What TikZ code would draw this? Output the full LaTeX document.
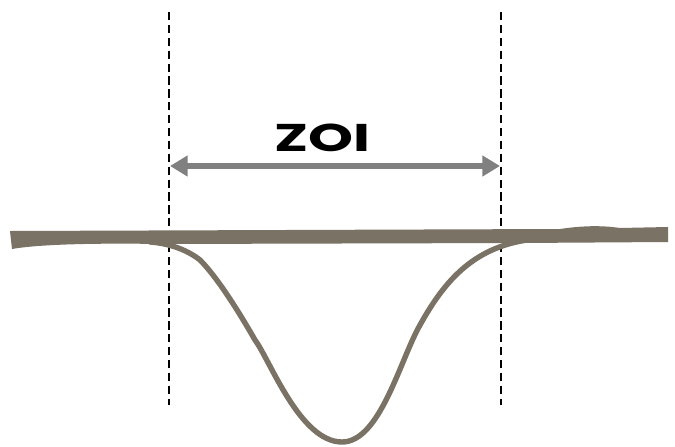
\documentclass[tikz,border=0pt]{standalone}
\usepackage{fontspec}
\setmainfont{Poppins}
\usetikzlibrary{arrows.meta}
\definecolor{ground}{RGB}{122,114,101}
\definecolor{arrowgray}{RGB}{128,128,128}
\begin{document}
\begin{tikzpicture}[x=0.03cm,y=-0.03cm, line join=round, line cap=round]
	\def\xl{169} \def\xr{501} % bords de la zone
	\def\ytop{12} \def\ybot{405}
	\useasboundingbox (0,0) rectangle (675,446);
	% limites verticales
	\coordinate (lt) at (\xl,\ytop); \coordinate (lb) at (\xl,\ybot);
	\coordinate (rt) at (\xr,\ytop); \coordinate (rb) at (\xr,\ybot);
	\draw[line width=1.4pt, line cap=butt, dash pattern=on 7pt off 4pt] (lt)--(lb);
	\draw[line width=1.4pt, line cap=butt, dash pattern=on 7pt off 4pt] (rt)--(rb);
	% surface
	\fill[ground] (10,231) -- (560,229) .. controls (580,226) and (600,225) .. (620,228)
		-- (668,227) -- (668,242) -- (520,243) -- (160,244)
		.. controls (100,243) and (40,244) .. (12,249) -- cycle;
	% creux
	\draw[ground, line width=4.6pt] (150,242) .. controls (165,243) and (185,248) .. (200,260)
		.. controls (215,275) and (235,305) .. (255,340)
		.. controls (270,360) and (300,442) .. (342,442)
		.. controls (380,442) and (400,360) .. (420,325)
		.. controls (445,280) and (475,245) .. (535,239);
	% fleche
	\coordinate (al) at (\xl+1,166); \coordinate (ar) at (\xr-1,166);
	\draw[arrowgray, line width=4.3pt, line cap=butt, {Triangle[length=15pt,width=17pt]}-{Triangle[length=15pt,width=17pt]}] (al)--(ar);
	\node[font=\fontsize{33}{33}\selectfont\bfseries, inner sep=0pt, xscale=1.48] (zoi) at (322,138) {ZOI};
\end{tikzpicture}
\end{document}
